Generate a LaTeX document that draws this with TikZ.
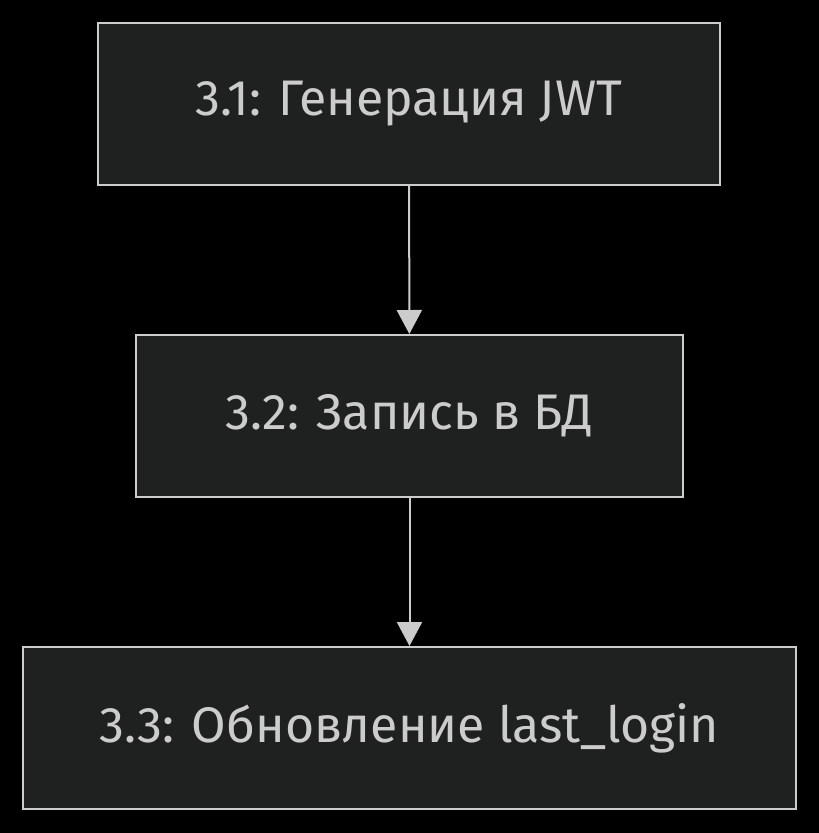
\documentclass[tikz,border=0pt]{standalone}
\usepackage{fontspec}
\setmainfont{Fira Sans}
\usetikzlibrary{arrows.meta}
\definecolor{bg}{HTML}{000000}
\definecolor{boxfill}{HTML}{1F2020}
\definecolor{boxline}{HTML}{CCCCCC}
\definecolor{txt}{HTML}{CCCCCC}
\begin{document}
\begin{tikzpicture}[x=1pt,y=-1pt,
  stepbox/.style={draw=boxline, fill=boxfill, line width=2pt, minimum height=162pt, text=txt, font=\fontsize{50}{60}\selectfont, inner sep=0pt},
  conn/.style={draw=boxline, line width=2pt, -{Triangle[length=24pt,width=25pt]}}]
\fill[bg] (0,0) rectangle (819,833);
\useasboundingbox (0,0) rectangle (819,833);
\node[stepbox, minimum width=622pt] (a) at (409,104) {3.1: Генерация JWT};
\node[stepbox, minimum width=547pt] (b) at (409.5,416) {3.2: Запись в БД};
\node[stepbox, minimum width=773pt] (c) at (409.5,728) {3.3: Обновление last\_login};
\draw[conn] (a) -- (b);
\draw[conn] (b) -- (c);
\end{tikzpicture}
\end{document}
